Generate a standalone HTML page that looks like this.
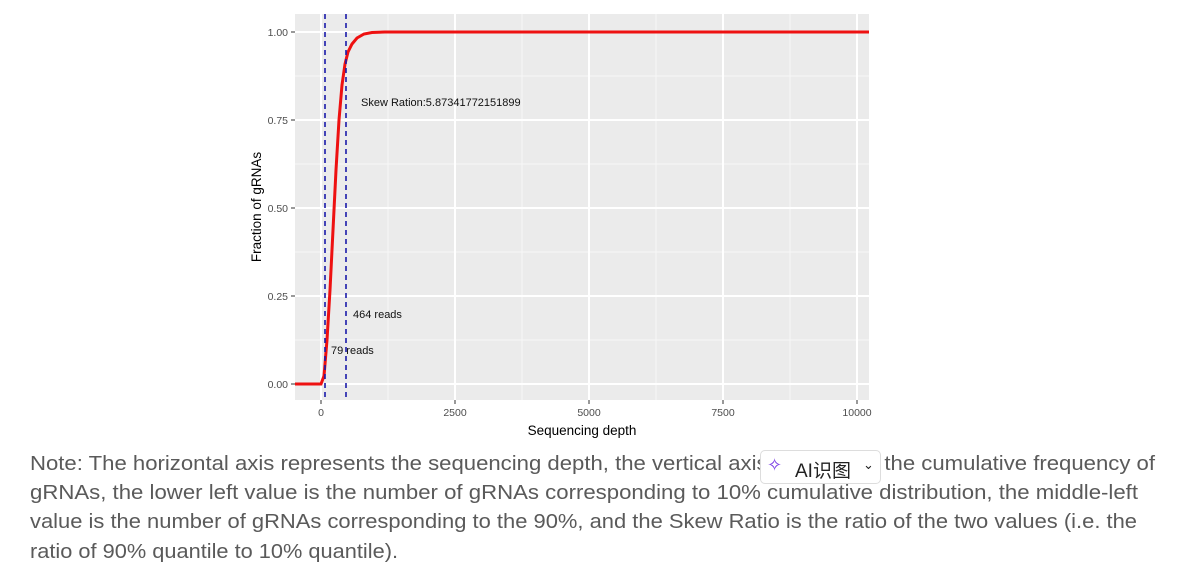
<!DOCTYPE html>
<html><head><meta charset="utf-8"><style>
body{margin:0;background:#fff;width:1185px;height:573px;overflow:hidden;position:relative;font-family:"Liberation Sans",sans-serif}
.ai{position:absolute;left:760px;top:450px;width:121px;height:34px;border:1px solid #ddd;border-radius:5px;background:#fff;font-size:19px;color:#222;box-sizing:border-box;font-family:"Liberation Sans","Noto Sans CJK SC",sans-serif}
</style></head><body>
<svg width="1185" height="573" style="position:absolute;left:0;top:0" font-family="Liberation Sans, sans-serif">
<rect x="295" y="14" width="574" height="386" fill="#ebebeb"/>
<g stroke="#f7f7f7" stroke-width="1">
<line x1="295" x2="869" y1="76" y2="76"/><line x1="295" x2="869" y1="164" y2="164"/><line x1="295" x2="869" y1="252" y2="252"/><line x1="295" x2="869" y1="340" y2="340"/>
<line y1="14" y2="400" x1="388" x2="388"/><line y1="14" y2="400" x1="522" x2="522"/><line y1="14" y2="400" x1="656" x2="656"/><line y1="14" y2="400" x1="790" x2="790"/>
</g>
<g stroke="#fff" stroke-width="2">
<line x1="295" x2="869" y1="32" y2="32"/><line x1="295" x2="869" y1="120" y2="120"/><line x1="295" x2="869" y1="208" y2="208"/><line x1="295" x2="869" y1="296" y2="296"/><line x1="295" x2="869" y1="384" y2="384"/>
<line y1="14" y2="400" x1="321" x2="321"/><line y1="14" y2="400" x1="455" x2="455"/><line y1="14" y2="400" x1="589" x2="589"/><line y1="14" y2="400" x1="723" x2="723"/><line y1="14" y2="400" x1="857" x2="857"/>
</g>
<polyline fill="none" stroke="#ee1111" stroke-width="3" points="295,384 321,384 324,376 327,340 330,290 333,230 336,170 339,120 342,85 345,64 348,52 352,44 357,38 364,34 372,32.5 385,32 869,32"/>
<g stroke="#1a1aaa" stroke-width="1.6" stroke-dasharray="5,4">
<line x1="325" x2="325" y1="14" y2="400"/><line x1="346" x2="346" y1="14" y2="400"/>
</g>
<g font-size="11" fill="#111">
<text x="361" y="106">Skew Ration:5.87341772151899</text>
<text x="353" y="318">464 reads</text>
<text x="331" y="354">79 reads</text>
</g>
<g font-size="10.5" fill="#4d4d4d" text-anchor="end">
<text x="288" y="36">1.00</text><text x="288" y="124">0.75</text><text x="288" y="212">0.50</text><text x="288" y="300">0.25</text><text x="288" y="388">0.00</text>
</g>
<g stroke="#333" stroke-width="1">
<line x1="291" x2="295" y1="32" y2="32"/><line x1="291" x2="295" y1="120" y2="120"/><line x1="291" x2="295" y1="208" y2="208"/><line x1="291" x2="295" y1="296" y2="296"/><line x1="291" x2="295" y1="384" y2="384"/>
<line y1="400" y2="404" x1="321" x2="321"/><line y1="400" y2="404" x1="455" x2="455"/><line y1="400" y2="404" x1="589" x2="589"/><line y1="400" y2="404" x1="723" x2="723"/><line y1="400" y2="404" x1="857" x2="857"/>
</g>
<g font-size="10.5" fill="#4d4d4d" text-anchor="middle">
<text x="321" y="416">0</text><text x="455" y="416">2500</text><text x="589" y="416">5000</text><text x="723" y="416">7500</text><text x="857" y="416">10000</text>
</g>
<text x="582" y="435" font-size="13.5" text-anchor="middle" fill="#000">Sequencing depth</text>
<text transform="translate(261,207) rotate(-90)" font-size="13.5" text-anchor="middle" fill="#000">Fraction of gRNAs</text>
<g font-size="20.5" fill="#5a5a5a" lengthAdjust="spacingAndGlyphs">
<text x="30" y="470" textLength="1125" lengthAdjust="spacingAndGlyphs">Note: The horizontal axis represents the sequencing depth, the vertical axis represents the cumulative frequency of</text>
<text x="30" y="499" textLength="1108" lengthAdjust="spacingAndGlyphs">gRNAs, the lower left value is the number of gRNAs corresponding to 10% cumulative distribution, the middle-left</text>
<text x="30" y="528" textLength="1107" lengthAdjust="spacingAndGlyphs">value is the number of gRNAs corresponding to the 90%, and the Skew Ratio is the ratio of the two values (i.e. the</text>
<text x="30" y="558" textLength="368" lengthAdjust="spacingAndGlyphs">ratio of 90% quantile to 10% quantile).</text>
</g>
</svg>
<div class="ai"><span style="position:absolute;left:6px;top:4px;color:#7b3fe4;font-size:18px">✧</span><span style="position:absolute;left:34px;top:5px">AI识图</span><span style="position:absolute;left:102px;top:6px;font-size:13px">⌄</span></div>
</body></html>
